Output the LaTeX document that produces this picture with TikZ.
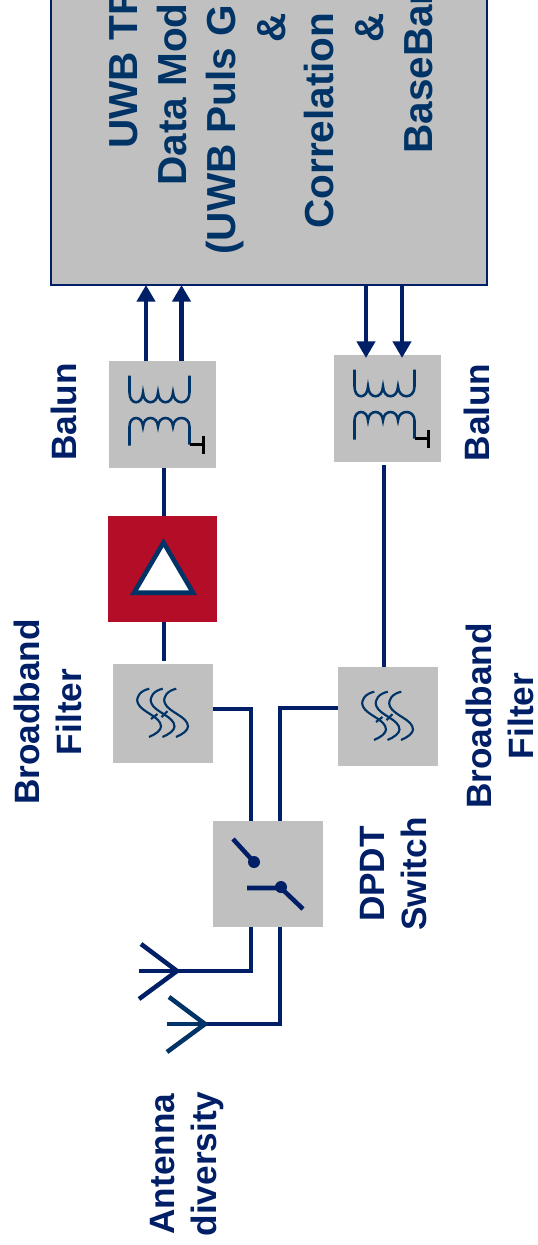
\documentclass[tikz,border=0pt]{standalone}
\usepackage{fontspec}
\setmainfont{Liberation Sans}
\usepackage{xcolor}
\usepackage{tikz}
\usetikzlibrary{arrows.meta}
\definecolor{navyline}{HTML}{001F66}
\definecolor{navytext}{HTML}{003366}
\definecolor{blockgray}{HTML}{C0C0C0}
\definecolor{ampred}{HTML}{B30D28}
\tikzset{block/.style={fill=blockgray,inner sep=0pt,outer sep=0pt},
    wire/.style={draw=navyline,line width=3.4pt},
    feed/.style={wire,-{Triangle[length=12.5pt,width=13.5pt]}},
    coil/.style={draw=navytext,line width=1.9pt},
    caption/.style={text=navyline,font=\fontsize{26.4}{31.5}\selectfont\bfseries,
        rotate=90,align=center,inner sep=0pt},
    boxtext/.style={text=navytext,font=\fontsize{30.4}{36}\selectfont\bfseries,
        rotate=90,inner sep=0pt},
    pics/transformer/.style={code={
        \draw[coil] (-33,-39) -- (-33,-22)
            .. controls (-33,-9) and (-20,-9) .. (-19.5,-22)
            .. controls (-19,-9) and (-5,-9) .. (-4.5,-22)
            .. controls (-4,-9) and (10,-9) .. (10.5,-22)
            .. controls (11,-9) and (27,-9) .. (27,-22) -- (27,-39);
        \draw[coil] (-33,31) -- (-33,12)
            .. controls (-33,.7) and (-20,.7) .. (-19.5,12)
            .. controls (-19,.7) and (-5,.7) .. (-4.5,12)
            .. controls (-4,.7) and (10,.7) .. (10.5,12)
            .. controls (11,.7) and (27,.7) .. (27,12) -- (27,30);
        \draw[black,line width=2.4pt] (27,30) -- (41,30) (41,21.5) -- (41,39.5);
    }},
    pics/bandpass/.style={code={
        \foreach \dx in {0,13.5,27} {
            \draw[coil,line width=1.6pt,xshift=\dx*0.75pt] (-13.7,-24.8)
                .. controls (-22,-23) and (-28,-17) .. (-25,-10)
                .. controls (-21,-1) and (-2,3) .. (-2,13)
                .. controls (-2,17) and (-8,21) .. (-14,23.5);
        }
        \draw[coil,line width=1.6pt] (-12,5.5) -- (-5.5,.5) (-1.5,3.5) -- (4.5,-2.5);
    }},
    pics/antenna/.style={code={
        \draw[wire,draw=#1] (-38,0) -- (0,0);
        \draw[wire,draw=#1,line join=miter] (-36,-27) -- (0,0) -- (-38,28);
    }}}

\begin{document}
\begin{tikzpicture}[x=0.75pt,y=-0.75pt]
    \useasboundingbox (0,0) rectangle (537,1245);
    % main block, runs off the top of the page
    \node[block,draw=navyline,line width=1.7pt,minimum width=327pt,minimum height=250.5pt] (trx) at (269,118) {};
    \node[boxtext,anchor=base west] (lineone) at (137,149) {UWB TR};
    \node[boxtext,anchor=base west] (linetwo) at (186,186) {Data Mod};
    \node[boxtext,anchor=base west] (linethree) at (235,255) {(UWB Puls G};
    \node[boxtext,anchor=base] (andone) at (285,28) {\&};
    \node[boxtext,anchor=base west] (linefour) at (333,229) {Correlation};
    \node[boxtext,anchor=base] (andtwo) at (383,28) {\&};
    \node[boxtext,anchor=base west] (linefive) at (432,154) {BaseBan};

    \node[block,minimum size=80.25pt] (balunrx) at (162.5,414.5) {};
    \node[block,minimum size=80.25pt] (baluntx) at (387.5,408.5) {};
    \node[block,fill=ampred,minimum width=81.75pt,minimum height=79.5pt] (amp) at (162.5,569) {};
    \node[block,minimum width=75pt,minimum height=74.25pt] (filterrx) at (163,713.5) {};
    \node[block,minimum width=75pt,minimum height=74.25pt] (filtertx) at (388,716.5) {};
    \node[block,minimum width=82.5pt,minimum height=79.5pt] (switch) at (268,874) {};

    \pic at (balunrx) {transformer};
    \pic at (baluntx) {transformer};
    \pic at (filterrx) {bandpass};
    \pic at (filtertx) {bandpass};
    \draw[draw=navytext,fill=white,line width=3.4pt,line join=miter] (163.5,542.5) -- (193,592.75) -- (134,592.75) -- cycle;

    % switch contacts
    \draw[wire] (233,839) -- (254,862);
    \fill[navyline] (254,862) circle (4.5pt);
    \draw[wire] (247,888) -- (281,888) -- (303,909);
    \fill[navyline] (281,887) circle (4.5pt);

    \coordinate (rxinone) at (146,361);
    \coordinate (rxintwo) at (181.5,361);
    \coordinate (txoutone) at (366,358);
    \coordinate (txouttwo) at (402,358);
    \coordinate (rfrx) at (164,500);
    \coordinate (rftx) at (384,500);
    \coordinate (kneerx) at (251,709);
    \coordinate (kneetx) at (280,708);
    \coordinate (kneeone) at (251,971);
    \coordinate (kneetwo) at (280,1024);
    \coordinate (antone) at (177,971);
    \coordinate (anttwo) at (205,1024);

    \draw[feed] (rxinone) -- (rxinone |- trx.south);
    \draw[feed] (rxintwo) -- (rxintwo |- trx.south);
    \draw[feed] (txoutone |- trx.south) -- (txoutone);
    \draw[feed] (txouttwo |- trx.south) -- (txouttwo);
    \draw[wire] (balunrx.south -| rfrx) -- (amp.north -| rfrx);
    \draw[wire,shorten >=2.25pt] (amp.south -| rfrx) -- (filterrx.north -| rfrx);
    \draw[wire,shorten <=2.25pt] (baluntx.south -| rftx) -- (filtertx.north -| rftx);
    \draw[wire] (filterrx.east |- kneerx) -- (kneerx) -- (switch.north -| kneerx);
    \draw[wire] (filtertx.west |- kneetx) -- (kneetx) -- (switch.north -| kneetx);
    \draw[wire] (switch.south -| kneeone) -- (kneeone) -- (antone);
    \draw[wire] (switch.south -| kneetwo) -- (kneetwo) -- (anttwo);
    \pic at (antone) {antenna=navyline};
    \pic at (anttwo) {antenna=navytext};

    % captions
    \node[caption,anchor=base] (balunrxlabel) at (76.5,412) {Balun};
    \node[caption,anchor=base] (baluntxlabel) at (489.5,412.5) {Balun};
    \node[caption] (filterrxlabel) at (48,712) {Broadband\\Filter};
    \node[caption] (filtertxlabel) at (500,716) {Broadband\\Filter};
    \node[caption] (switchlabel) at (394,874) {DPDT\\Switch};
    \node[caption] (antlabel) at (187,1164) {Antenna\\diversity};
\end{tikzpicture}
\end{document}
